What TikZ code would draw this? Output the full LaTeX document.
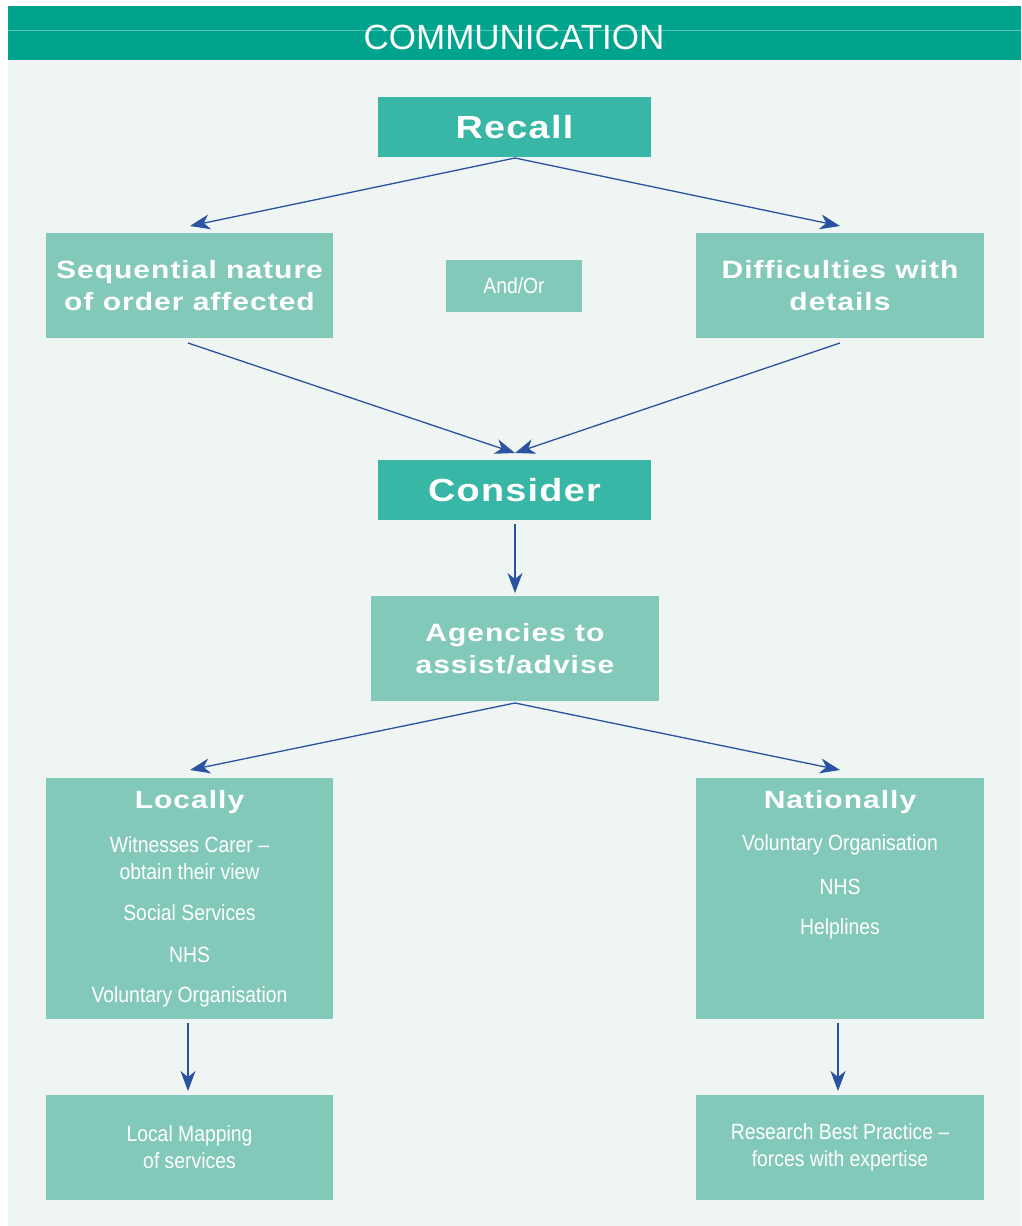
\documentclass[tikz,border=0pt]{standalone}
\usepackage{fontspec}
\setmainfont{Liberation Sans}
\newfontfamily\widebold[FakeStretch=1.2,LetterSpace=4]{Liberation Sans Bold}
\newfontfamily\bigbold[FakeStretch=1.18,LetterSpace=4]{Liberation Sans Bold}
\newfontfamily\condfont[FakeStretch=0.88]{Liberation Sans}
\newfontfamily\hdrfont{Liberation Sans}
\usetikzlibrary{arrows.meta}
\definecolor{hdr}{HTML}{00A38B}
\definecolor{darkbox}{HTML}{38B7A7}
\definecolor{lightbox}{HTML}{83C9BA}
\definecolor{panel}{HTML}{EFF5F3}
\definecolor{arr}{HTML}{2A52A0}
\tikzset{
  box/.style={fill=lightbox, draw=none, text=white, inner sep=0pt, align=center},
  dbox/.style={fill=darkbox, draw=none, text=white, inner sep=0pt, align=center},
  bigtitle/.style={font=\bigbold\fontsize{32}{36}\selectfont},
  midtitle/.style={font=\widebold\fontsize{25}{32}\selectfont},
  smalltxt/.style={font=\condfont\fontsize{22}{27}\selectfont},
  conn/.style={draw=arr, line width=1.3pt, -{Stealth[length=20pt,width=15pt,inset=6pt]}}
}
\begin{document}
\begin{tikzpicture}[x=1pt,y=-1pt]
\useasboundingbox (0,0) rectangle (1021,1226);
\fill[white] (0,0) rectangle (1021,1226);
\fill[panel] (8,60) rectangle (1021,1226);
\fill[hdr] (8,6) rectangle (1021,60);
\draw[white!35!hdr, line width=0.8pt] (8,30) -- (1021,30);
\node[text=white, font=\hdrfont\fontsize{35}{38}\selectfont] (title) at (514,37) {COMMUNICATION};

% boxes
\node[dbox, minimum width=273pt, minimum height=60pt, bigtitle] (recall) at (514.5,127) {Recall};
\node[box, minimum width=287pt, minimum height=105pt, midtitle] (seq) at (189.5,285.5) {Sequential nature\\of order affected};
\node[box, minimum width=136pt, minimum height=52pt, smalltxt] (andor) at (514,286) {And/Or};
\node[box, minimum width=288pt, minimum height=105pt, midtitle] (diff) at (840,285.5) {Difficulties with\\details};
\node[dbox, minimum width=273pt, minimum height=60pt, bigtitle] (consider) at (514.5,490) {Consider};
\node[box, minimum width=288pt, minimum height=105pt, midtitle] (agencies) at (515,648.5) {Agencies to\\assist/advise};
\node[box, minimum width=287pt, minimum height=241pt] (locally) at (189.5,898.5) {};
\node[box, minimum width=288pt, minimum height=241pt] (nationally) at (840,898.5) {};
\node[box, minimum width=287pt, minimum height=105pt, smalltxt] (mapping) at (189.5,1147.5) {Local Mapping\\of services};
\node[box, minimum width=288pt, minimum height=105pt, smalltxt] (research) at (840,1147.5) {Research Best Practice –\\forces with expertise};

% texts inside Locally / Nationally
\node[text=white, midtitle, inner sep=0pt] (loctitle) at (189.5,802) {Locally};
\node[text=white, smalltxt, inner sep=0pt, align=center] (loc1) at (189.5,858) {Witnesses Carer –\\obtain their view};
\node[text=white, smalltxt, inner sep=0pt] (loc2) at (189.5,913) {Social Services};
\node[text=white, smalltxt, inner sep=0pt] (loc3) at (189.5,955) {NHS};
\node[text=white, smalltxt, inner sep=0pt] (loc4) at (189.5,997) {Voluntary Organisation};
\node[text=white, midtitle, inner sep=0pt] (nattitle) at (840,802) {Nationally};
\node[text=white, smalltxt, inner sep=0pt] (nat1) at (840,845) {Voluntary Organisation};
\node[text=white, smalltxt, inner sep=0pt] (nat2) at (840,887) {NHS};
\node[text=white, smalltxt, inner sep=0pt] (nat3) at (840,929) {Helplines};

% connectors
\coordinate (rb) at (515,158);
\coordinate (seqin) at (190,226);
\coordinate (diffin) at (840,226);
\draw[conn] (rb) -- (seqin);
\draw[conn] (rb) -- (diffin);
\coordinate (seqout) at (188,343);
\coordinate (diffout) at (840,343);
\coordinate (conin) at (515,453);
\draw[conn] (seqout) -- (conin);
\draw[conn] (diffout) -- (conin);
\coordinate (conout) at (515,524);
\coordinate (agin) at (515,593);
\draw[conn] (conout) -- (agin);
\coordinate (agout) at (515,703);
\coordinate (locin) at (190,770);
\coordinate (natin) at (840,770);
\draw[conn] (agout) -- (locin);
\draw[conn] (agout) -- (natin);
\coordinate (locout) at (188,1023);
\coordinate (mapin) at (188,1091);
\draw[conn] (locout) -- (mapin);
\coordinate (natout) at (838,1023);
\coordinate (resin) at (838,1091);
\draw[conn] (natout) -- (resin);
\end{tikzpicture}
\end{document}
